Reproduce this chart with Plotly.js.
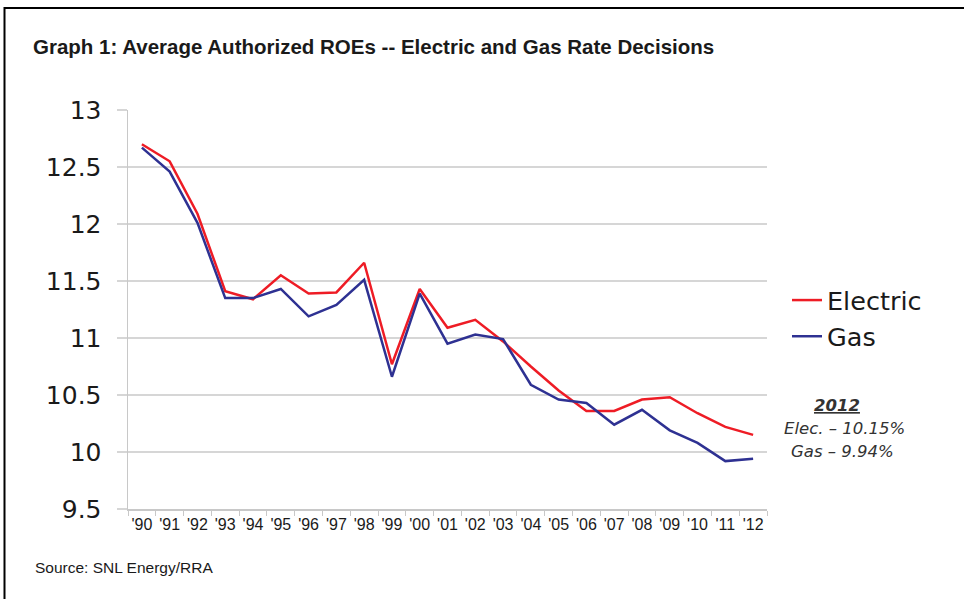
<!DOCTYPE html>
<html>
<head>
<meta charset="utf-8">
<script src="https://cdn.plot.ly/plotly-3.0.1.min.js"></script>
<style>
  html, body { margin: 0; padding: 0; background: #fff; }
  #chart { width: 964px; height: 599px; }
</style>
</head>
<body>
<div id="chart"></div>
<script>
// ---- Data ----
const years = ["'90","'91","'92","'93","'94","'95","'96","'97","'98","'99","'00","'01",
               "'02","'03","'04","'05","'06","'07","'08","'09","'10","'11","'12"];
const electric = [12.70, 12.55, 12.09, 11.41, 11.34, 11.55, 11.39, 11.40, 11.66, 10.77, 11.43, 11.09,
                  11.16, 10.97, 10.75, 10.54, 10.36, 10.36, 10.46, 10.48, 10.34, 10.22, 10.15];
const gas      = [12.67, 12.46, 12.01, 11.35, 11.35, 11.43, 11.19, 11.29, 11.51, 10.66, 11.39, 10.95,
                  11.03, 10.99, 10.59, 10.46, 10.43, 10.24, 10.37, 10.19, 10.08, 9.92, 9.94];
const seriesNames = ["Electric", "Gas"];
const titleText = "Graph 1: Average Authorized ROEs -- Electric and Gas Rate Decisions";
const sourceText = "Source: SNL Energy/RRA";
const noteLines = ["<b><i><u>2012</u></i></b>", "<i>Elec. – 10.15%</i>", "<i>Gas – 9.94%</i>"];

const traces = [
  { x: years, y: electric, name: seriesNames[0], type: "scatter", mode: "lines",
    line: { color: "#ee1c25", width: 2.5 } },
  { x: years, y: gas, name: seriesNames[1], type: "scatter", mode: "lines",
    line: { color: "#2e3192", width: 2.5 } }
];

const layout = {
  width: 964, height: 599,
  margin: { l: 128, r: 197, t: 110, b: 90 },
  paper_bgcolor: "#ffffff", plot_bgcolor: "#ffffff",
  font: { family: "DejaVu Sans, Arial, sans-serif", color: "#1a1a1a" },
  title: {
    text: titleText,
    font: { family: "Liberation Sans, Arial, sans-serif", size: 20.5, color: "#1a1a1a", weight: "bold" },
    xref: "container", yref: "container",
    x: 33/964, xanchor: "left", y: 1 - 47/599, yanchor: "middle"
  },
  xaxis: {
    type: "category", range: [-0.5, 22.5], tickangle: 0,
    showgrid: false, showline: true, linecolor: "#c8c8c8", linewidth: 1.5,
    ticks: "outside", tickson: "boundaries", ticklen: 5, tickcolor: "#c8c8c8", tickwidth: 1,
    tickfont: { family: "Liberation Sans, Arial, sans-serif", size: 16, color: "#1a1a1a" },
    fixedrange: true
  },
  yaxis: {
    range: [9.5, 13], dtick: 0.5, tick0: 9.5,
    showgrid: true, gridcolor: "#d6d6d6", gridwidth: 1.5,
    showline: true, linecolor: "#c8c8c8", linewidth: 1.5,
    ticks: "outside", ticklen: 10, tickcolor: "#d6d6d6", tickwidth: 1.5,
    ticklabelstandoff: 10,
    tickfont: { family: "DejaVu Sans, Arial, sans-serif", size: 25, color: "#1a1a1a" },
    zeroline: false, fixedrange: true
  },
  showlegend: true,
  legend: {
    x: (787 - 128) / 639, xanchor: "left",
    y: (509 - 277) / 399, yanchor: "top",
    font: { family: "DejaVu Sans, Arial, sans-serif", size: 25.5, color: "#1a1a1a" },
    bgcolor: "rgba(0,0,0,0)", borderwidth: 0, tracegroupgap: 0
  },
  annotations: [
    { xref: "paper", yref: "paper", x: (33 - 128) / 639, y: (509 - 567) / 399,
      xanchor: "left", yanchor: "middle", showarrow: false, text: sourceText,
      font: { family: "Liberation Sans, Arial, sans-serif", size: 15.5, color: "#1a1a1a" } },
    { xref: "paper", yref: "paper", x: (837 - 128) / 639, y: (509 - 405) / 399,
      xanchor: "center", yanchor: "middle", showarrow: false, text: noteLines[0],
      font: { family: "DejaVu Sans, Arial, sans-serif", size: 16.5, color: "#333333" } },
    { xref: "paper", yref: "paper", x: (844 - 128) / 639, y: (509 - 428) / 399,
      xanchor: "center", yanchor: "middle", showarrow: false, text: noteLines[1],
      font: { family: "DejaVu Sans, Arial, sans-serif", size: 16.5, color: "#333333" } },
    { xref: "paper", yref: "paper", x: (842 - 128) / 639, y: (509 - 451) / 399,
      xanchor: "center", yanchor: "middle", showarrow: false, text: noteLines[2],
      font: { family: "DejaVu Sans, Arial, sans-serif", size: 16.5, color: "#333333" } }
  ],
  shapes: [
    { type: "path", xref: "paper", yref: "paper",
      path: "M " + ((4.5 - 128) / 639) + "," + ((509 - 610) / 399) +
            " L " + ((4.5 - 128) / 639) + "," + ((509 - 8) / 399) +
            " L " + ((980 - 128) / 639) + "," + ((509 - 8) / 399),
      line: { color: "#000000", width: 2 } }
  ]
};

Plotly.newPlot("chart", traces, layout, { displayModeBar: false, staticPlot: true });
</script>
</body>
</html>
